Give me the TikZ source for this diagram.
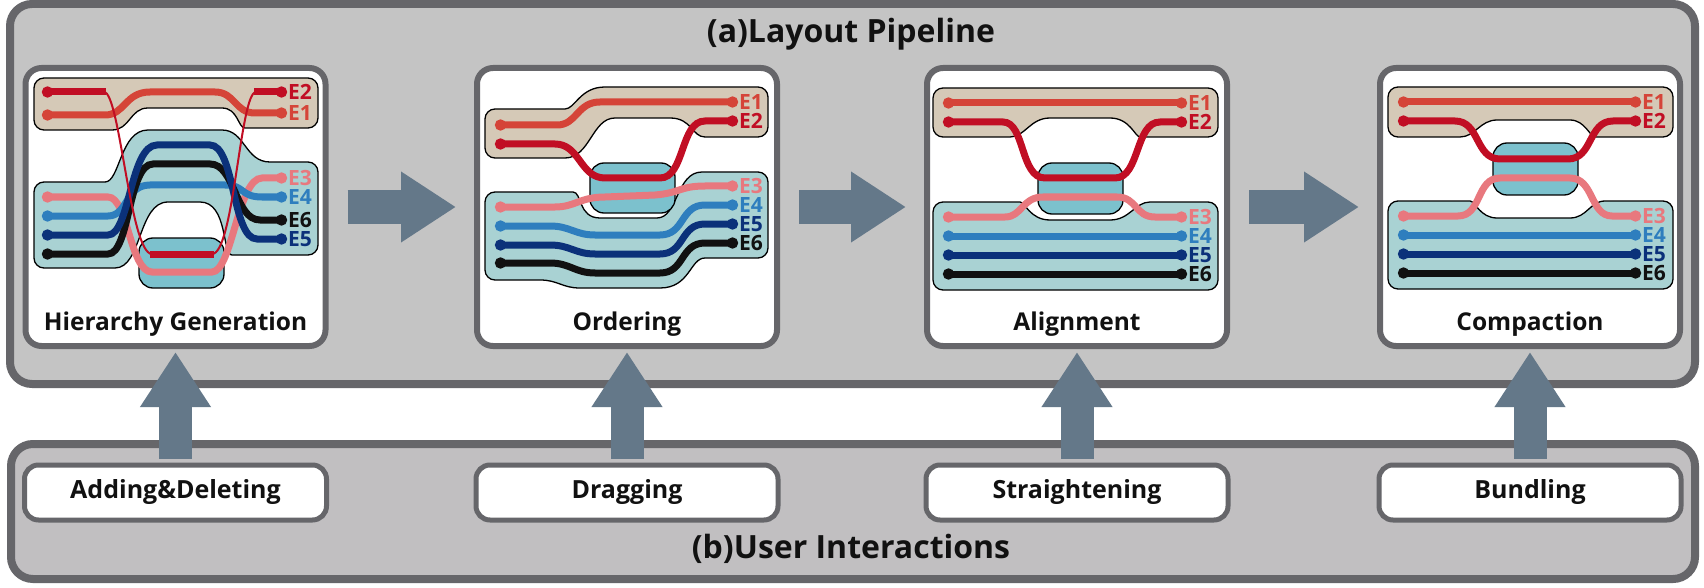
\documentclass[tikz,border=0pt]{standalone}
\usepackage{fontspec}
\setmainfont{Open Sans}
\usetikzlibrary{arrows.meta}
\definecolor{frameA}{HTML}{C4C4C4}
\definecolor{frameB}{HTML}{C1BFC1}
\definecolor{bordc}{HTML}{66666A}
\definecolor{beige}{HTML}{D5C9B7}
\definecolor{tealL}{HTML}{A9D2D3}
\definecolor{tealD}{HTML}{7CC1CD}
\definecolor{arrowc}{HTML}{647889}
\definecolor{cE1}{HTML}{D54438}
\definecolor{cE2}{HTML}{C10E24}
\definecolor{cE3}{HTML}{E8787E}
\definecolor{cE4}{HTML}{2E7EBE}
\definecolor{cE5}{HTML}{0B317A}
\definecolor{cE6}{HTML}{111111}
\definecolor{txt}{HTML}{111111}
\begin{document}
\begin{tikzpicture}[x=1pt,y=-1pt,
  frame/.style={draw=bordc, line width=8pt, rounded corners=22pt, inner sep=0pt},
  panel/.style={draw=bordc, line width=6pt, fill=white, rounded corners=16pt, minimum width=300pt, minimum height=278pt, inner sep=0pt},
  ibox/.style={draw=bordc, line width=5pt, fill=white, rounded corners=14pt, minimum width=302pt, minimum height=55pt, inner sep=0pt, font=\fontsize{25}{25}\selectfont\bfseries, text=txt},
  capt/.style={font=\fontsize{24.5}{25}\selectfont\bfseries, text=txt, inner sep=0pt},
  ttl/.style={font=\fontsize{32}{32}\selectfont\bfseries, text=txt, inner sep=0pt},
  grp/.style={draw=black, line width=1.3pt},
  sbox/.style={draw=black, line width=1.3pt, fill=tealD, rounded corners=14pt},
  ln/.style={line width=7pt, {Circle[length=11pt]}-{Circle[length=11pt]}},
  thinln/.style={line width=2pt},
  elab/.style={font=\fontsize{21}{21}\selectfont\bfseries, anchor=west, inner sep=0pt},
  bigarrow/.style={draw=arrowc, line width=33pt, -{Triangle[length=55pt,width=67pt]}}
]
\fill[white] (0,0) rectangle (1704,588);
\useasboundingbox (0,0) rectangle (1704,588);

% frames
\node[frame, fill=frameA, minimum width=1685pt, minimum height=380pt] (fa) at (852.5,194) {};
\node[frame, fill=frameB, minimum width=1684pt, minimum height=135pt] (fb) at (853,511.5) {};
\node[ttl] (ta) at (851,34) {(a)Layout Pipeline};
\node[ttl] (tb) at (851,549) {(b)User Interactions};

% panels
\node[panel] (hier) at (175.5,207) {};
\node[panel] (ord) at (627,207) {};
\node[panel] (alg) at (1077,207) {};
\node[panel] (comp) at (1530,207) {};
\node[capt] (chier) at (175.5,324) {Hierarchy Generation};
\node[capt] (cord) at (627,324) {Ordering};
\node[capt] (calg) at (1077,324) {Alignment};
\node[capt] (ccomp) at (1530,324) {Compaction};

% bottom boxes
\node[ibox] (b1) at (175.5,492.5) {Adding\&Deleting};
\node[ibox] (b2) at (627,492.5) {Dragging};
\node[ibox] (b3) at (1077,492.5) {Straightening};
\node[ibox] (b4) at (1530,492.5) {Bundling};

% arrows
\draw[bigarrow] ([xshift=19pt]hier.east) -- ([xshift=-18pt]ord.west);
\draw[bigarrow] ([xshift=19pt]ord.east) -- ([xshift=-18pt]alg.west);
\draw[bigarrow] ([xshift=19pt]alg.east) -- ([xshift=-18pt]comp.west);
\draw[bigarrow] ([yshift=4pt]b1.north) -- ([yshift=-3pt]hier.south);
\draw[bigarrow] ([yshift=4pt]b2.north) -- ([yshift=-3pt]ord.south);
\draw[bigarrow] ([yshift=4pt]b3.north) -- ([yshift=-3pt]alg.south);
\draw[bigarrow] ([yshift=4pt]b4.north) -- ([yshift=-3pt]comp.south);

% ---------- Hierarchy Generation ----------
\draw[grp, fill=beige] (34,104) [rounded corners=10pt] -- (34,78) -- (318,78) -- (318,128) -- (255,128) [sharp corners] .. controls (238,128) and (238,108) .. (222,108) -- (148,108) .. controls (130,108) and (130,130) .. (112,130) [rounded corners=10pt] -- (34,130) -- cycle;
\draw[grp, fill=tealL] (34,225) [rounded corners=10pt] -- (34,182) -- (95,182) [sharp corners] .. controls (120,182) and (120,130) .. (148,130) -- (222,130) .. controls (245,130) and (245,162) .. (270,162) [rounded corners=10pt] -- (318,162) -- (318,255) -- (242,255) [sharp corners] .. controls (222,255) and (228,202) .. (200,202) -- (168,202) .. controls (138,202) and (142,268) .. (115,268) [rounded corners=10pt] -- (34,268) -- cycle;
\draw[sbox] (139,238) rectangle (224,288);
\draw[ln, cE3] (42,197) -- (108,197) .. controls (128,197) and (130,272) .. (152,272) -- (212,272) .. controls (232,272) and (238,178) .. (262,178) -- (287,178);
\draw[ln, cE4] (42,216) -- (108,216) .. controls (128,216) and (125,185) .. (150,185) -- (225,185) .. controls (245,185) and (240,197) .. (262,197) -- (287,197);
\draw[ln, cE6] (42,254) -- (108,254) .. controls (130,254) and (128,164) .. (153,164) -- (210,164) .. controls (235,164) and (235,220) .. (260,220) -- (287,220);
\draw[ln, cE5] (42,235) -- (108,235) .. controls (130,235) and (130,145) .. (157,145) -- (210,145) .. controls (235,145) and (232,239) .. (257,239) -- (287,239);
\draw[ln, cE1] (42,115) -- (105,115) .. controls (125,115) and (125,92) .. (150,92) -- (215,92) .. controls (235,92) and (235,113) .. (255,113) -- (287,113);
\draw[thinln, cE2] (104,92) .. controls (120,92) and (130,254) .. (152,254) -- (212,254) .. controls (234,254) and (240,92) .. (256,92);
\draw[line width=7pt, cE2, {Circle[length=11pt]}-] (42,92) -- (106,92);
\draw[line width=7pt, cE2] (150,254) -- (214,254);
\draw[line width=7pt, cE2, -{Circle[length=11pt]}] (254,92) -- (287,92);
\node[elab, text=cE2] (h2) at (288,92) {E2};
\node[elab, text=cE1] (h1) at (288,113) {E1};
\node[elab, text=cE3] (h3) at (288,178) {E3};
\node[elab, text=cE4] (h4) at (288,197) {E4};
\node[elab, text=cE6] (h6) at (288,220) {E6};
\node[elab, text=cE5] (h5) at (288,239) {E5};

% ---------- Ordering ----------
\draw[grp, fill=beige] (485,130) [rounded corners=10pt] -- (485,109) -- (555,109) [sharp corners] .. controls (575,109) and (580,87) .. (605,87) [rounded corners=10pt] -- (768,87) -- (768,137) -- (715,137) [sharp corners] .. controls (692,137) and (692,118) .. (670,118) -- (615,118) .. controls (592,118) and (590,158) .. (565,158) [rounded corners=10pt] -- (485,158) -- cycle;
\draw[grp, fill=tealL] (485,240) [rounded corners=10pt] -- (485,192) -- (563,192) [sharp corners] .. controls (582,192) and (578,218) .. (600,218) -- (657,218) .. controls (678,218) and (676,172) .. (702,172) [rounded corners=10pt] -- (768,172) -- (768,258) -- (715,258) [sharp corners] .. controls (690,258) and (690,288) .. (660,288) -- (580,288) .. controls (562,288) and (558,280) .. (540,280) [rounded corners=10pt] -- (485,280) -- cycle;
\draw[sbox] (590,163) rectangle (675,213);
\draw[ln, cE1] (495,125) -- (557,125) .. controls (577,125) and (577,102) .. (600,102) -- (738,102);
\draw[ln, cE2] (495,144) -- (555,144) .. controls (580,144) and (580,178) .. (605,178) -- (660,178) .. controls (685,178) and (680,121) .. (705,121) -- (738,121);
\draw[ln, cE3] (495,207) -- (555,207) .. controls (575,207) and (580,197) .. (605,197) -- (655,195) .. controls (680,193) and (680,186) .. (705,186) -- (738,186);
\draw[ln, cE4] (495,226) -- (550,226) .. controls (570,226) and (575,235) .. (595,235) -- (660,235) .. controls (685,235) and (680,205) .. (705,205) -- (738,205);
\draw[ln, cE5] (495,245) -- (550,245) .. controls (570,245) and (575,254) .. (595,254) -- (660,254) .. controls (685,254) and (680,224) .. (705,224) -- (738,224);
\draw[ln, cE6] (495,263) -- (550,263) .. controls (570,263) and (575,273) .. (595,273) -- (660,273) .. controls (685,273) and (680,243) .. (705,243) -- (738,243);
\node[elab, text=cE1] (o1) at (739,102) {E1};
\node[elab, text=cE2] (o2) at (739,121) {E2};
\node[elab, text=cE3] (o3) at (739,186) {E3};
\node[elab, text=cE4] (o4) at (739,205) {E4};
\node[elab, text=cE5] (o5) at (739,224) {E5};
\node[elab, text=cE6] (o6) at (739,243) {E6};

% ---------- Alignment ----------
\draw[grp, fill=beige] (933,110) [rounded corners=10pt] -- (933,88) -- (1218,88) -- (1218,137) -- (1150,137) [sharp corners] .. controls (1135,137) and (1130,118) .. (1110,118) -- (1050,118) .. controls (1030,118) and (1025,137) .. (1010,137) [rounded corners=10pt] -- (933,137) -- cycle;
\draw[grp, fill=tealL] (933,240) [rounded corners=10pt] -- (933,202) -- (1010,202) [sharp corners] .. controls (1025,202) and (1030,220) .. (1050,220) -- (1110,220) .. controls (1130,220) and (1135,202) .. (1150,202) [rounded corners=10pt] -- (1218,202) -- (1218,290) -- (933,290) -- cycle;
\draw[sbox] (1038,163) rectangle (1123,214);
\draw[ln, cE1] (943,103) -- (1187,103);
\draw[ln, cE2] (943,122) -- (1003,122) .. controls (1025,122) and (1020,178) .. (1045,178) -- (1115,178) .. controls (1140,178) and (1135,122) .. (1160,122) -- (1187,122);
\draw[ln, cE3] (943,217) -- (1005,217) .. controls (1022,217) and (1022,197) .. (1043,197) -- (1117,197) .. controls (1137,197) and (1135,217) .. (1155,217) -- (1187,217);
\draw[ln, cE4] (943,236) -- (1187,236);
\draw[ln, cE5] (943,255) -- (1187,255);
\draw[ln, cE6] (943,274) -- (1187,274);
\node[elab, text=cE1] (a1) at (1188,103) {E1};
\node[elab, text=cE2] (a2) at (1188,122) {E2};
\node[elab, text=cE3] (a3) at (1188,217) {E3};
\node[elab, text=cE4] (a4) at (1188,236) {E4};
\node[elab, text=cE5] (a5) at (1188,255) {E5};
\node[elab, text=cE6] (a6) at (1188,274) {E6};

% ---------- Compaction ----------
\draw[grp, fill=beige] (1388,110) [rounded corners=10pt] -- (1388,87) -- (1673,87) -- (1673,137) -- (1605,137) [sharp corners] .. controls (1590,137) and (1585,120) .. (1570,120) -- (1497,120) .. controls (1480,120) and (1475,137) .. (1460,137) [rounded corners=10pt] -- (1388,137) -- cycle;
\draw[grp, fill=tealL] (1388,240) [rounded corners=10pt] -- (1388,201) -- (1460,201) [sharp corners] .. controls (1475,201) and (1480,218) .. (1497,218) -- (1570,218) .. controls (1587,218) and (1590,201) .. (1605,201) [rounded corners=10pt] -- (1673,201) -- (1673,289) -- (1388,289) -- cycle;
\draw[sbox] (1493,143) rectangle (1578,195);
\draw[ln, cE1] (1398,102) -- (1641,102);
\draw[ln, cE2] (1398,121) -- (1455,121) .. controls (1480,121) and (1475,159) .. (1500,159) -- (1568,159) .. controls (1593,159) and (1588,121) .. (1613,121) -- (1641,121);
\draw[ln, cE3] (1398,216) -- (1458,216) .. controls (1482,216) and (1476,178) .. (1500,178) -- (1570,178) .. controls (1594,178) and (1590,216) .. (1612,216) -- (1641,216);
\draw[ln, cE4] (1398,235) -- (1641,235);
\draw[ln, cE5] (1398,254) -- (1641,254);
\draw[ln, cE6] (1398,273) -- (1641,273);
\node[elab, text=cE1] (c1) at (1642,102) {E1};
\node[elab, text=cE2] (c2) at (1642,121) {E2};
\node[elab, text=cE3] (c3) at (1642,216) {E3};
\node[elab, text=cE4] (c4) at (1642,235) {E4};
\node[elab, text=cE5] (c5) at (1642,254) {E5};
\node[elab, text=cE6] (c6) at (1642,273) {E6};
\end{tikzpicture}
\end{document}
